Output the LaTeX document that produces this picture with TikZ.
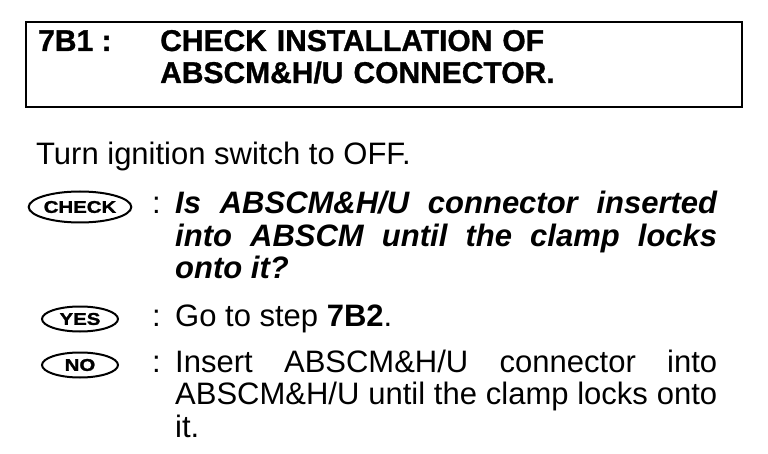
\documentclass[tikz,border=0pt]{standalone}
\usepackage{fontspec}
\setmainfont{Liberation Sans}
\newfontfamily\ovalfont[FakeStretch=1.2,FakeBold=1.5]{Liberation Sans Bold}
\newfontfamily\titlefont[FakeBold=1]{Liberation Sans}
\usetikzlibrary{shapes.geometric}
\hyphenpenalty=10000
\exhyphenpenalty=10000
\tolerance=10000
\begin{document}
\begin{tikzpicture}[x=1pt,y=-1pt,
  txt/.style={inner sep=0pt, anchor=base west, font=\fontsize{31}{32.5}\selectfont},
  para/.style={txt, text width=542pt, align=justify},
  ttl/.style={txt, font=\titlefont\bfseries\fontsize{30}{32}\selectfont},
  oval/.style={ellipse, draw, line width=2pt, inner sep=0pt,
    font=\ovalfont\fontsize{17}{17}\selectfont},
  titlebox/.style={draw, line width=2.2pt, inner sep=0pt}]
\useasboundingbox (0,0) rectangle (768,454);
% title box
\node[titlebox, minimum width=716pt, minimum height=85pt] (box) at (384,64.5) {};
\node[ttl] (num) at (38,51) {7B1 :};
\node[ttl, text width=570pt, align=left] (title) at (160,51)
  {CHECK INSTALLATION OF\\ABSCM\&H/U CONNECTOR.};
% instruction
\node[txt] (turn) at (36,165) {Turn ignition switch to OFF.};
% CHECK
\node[oval, minimum width=94pt, minimum height=31pt] (check) at (80,207) {CHECK};
\node[txt] (c1) at (152,214) {:};
\node[para, font=\bfseries\itshape\fontsize{31}{32.5}\selectfont] (q) at (175,214)
  {Is ABSCM\&H/U connector inserted into ABSCM until the clamp locks onto it?};
% YES
\node[oval, minimum width=76pt, minimum height=25pt] (yes) at (80,319) {YES};
\node[txt] (c2) at (152,326) {:};
\node[txt] (ya) at (175,326) {Go to step \textbf{7B2}.};
% NO
\node[oval, minimum width=76pt, minimum height=25pt] (no) at (80,365) {NO};
\node[txt] (c3) at (152,372) {:};
\node[para] (na) at (175,372)
  {Insert ABSCM\&H/U connector into ABSCM\&H/U until the clamp locks onto\linebreak it.};
\end{tikzpicture}
\end{document}
